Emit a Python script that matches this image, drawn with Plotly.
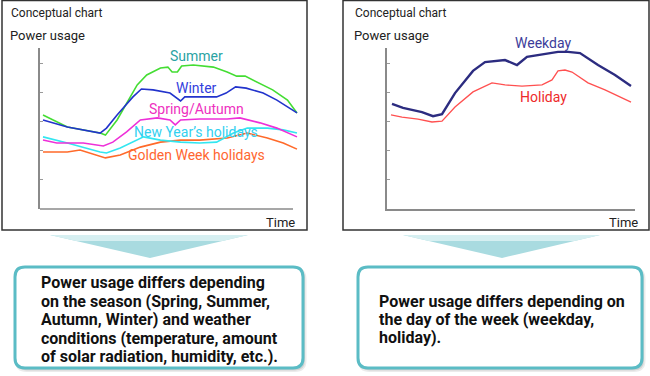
import plotly.graph_objects as go

W, H = 650, 376

# ---------------- data (conceptual) ----------------
# left chart: hours of day vs. relative power usage
summer_x = [0, 2.3, 5.4, 5.9, 7.0, 7.9, 8.9, 9.8, 11.1, 11.8, 12.2, 12.7, 13.1, 14.2, 16.1, 17.4, 18.3, 19.1, 20.2, 21.7, 23.1, 24]
summer_y = [3.22, 2.81, 2.60, 2.53, 3.05, 3.63, 4.25, 4.59, 4.83, 4.86, 4.69, 4.69, 4.90, 4.93, 4.86, 4.69, 4.55, 4.55, 4.35, 4.08, 3.73, 3.29]

winter_x = [0, 2.3, 5.4, 6.0, 7.0, 8.5, 9.3, 10.4, 12.0, 12.6, 13.0, 13.4, 14.5, 16.4, 17.3, 18.2, 19.2, 20.8, 22.1, 24]
winter_y = [3.05, 2.81, 2.60, 2.77, 3.22, 3.84, 4.11, 4.08, 3.97, 3.80, 3.70, 3.84, 3.84, 3.84, 3.97, 4.18, 4.14, 3.97, 3.73, 3.29]

spring_x = [0, 1.3, 3.8, 5.7, 6.6, 7.9, 9.2, 10.8, 12.0, 12.5, 13.0, 14.8, 17.4, 18.6, 20.5, 22.1, 24]
spring_y = [2.36, 2.26, 2.26, 2.16, 2.29, 2.64, 3.05, 3.12, 3.05, 2.88, 3.05, 3.08, 3.08, 3.12, 2.95, 2.77, 2.47]

newyear_x = [0, 2.3, 5.4, 6.0, 7.3, 8.5, 9.5, 11.1, 13.0, 14.8, 16.4, 18.0, 19.3, 21.2, 22.7, 24]
newyear_y = [2.47, 2.26, 1.95, 1.92, 2.09, 2.29, 2.47, 2.36, 2.29, 2.26, 2.29, 2.60, 2.77, 2.77, 2.71, 2.60]

golden_x = [0, 2.3, 3.5, 5.1, 5.9, 7.3, 9.2, 11.1, 13.0, 14.8, 17.4, 19.3, 21.2, 22.7, 24]
golden_y = [1.95, 1.95, 2.02, 1.85, 1.75, 1.85, 2.12, 2.29, 2.36, 2.36, 2.43, 2.60, 2.43, 2.26, 2.05]

# right chart
weekday_x = [0.1, 1.2, 3.1, 4.2, 5.1, 6.4, 8.2, 9.4, 11.4, 12.6, 13.6, 14.7, 15.7, 16.7, 17.7, 18.9, 20.7, 22.4, 24.0]
weekday_y = [3.60, 3.46, 3.32, 3.18, 3.25, 3.97, 4.73, 5.03, 5.10, 4.93, 5.21, 5.27, 5.31, 5.38, 5.38, 5.34, 4.93, 4.59, 4.21]

holiday_x = [0, 1.1, 2.7, 4.1, 5.1, 6.4, 8.2, 10.1, 11.4, 13.1, 15.1, 16.1, 16.7, 17.4, 18.1, 19.7, 21.4, 24.0]
holiday_y = [3.22, 3.15, 3.08, 2.98, 3.01, 3.49, 4.01, 4.32, 4.25, 4.21, 4.25, 4.42, 4.73, 4.76, 4.69, 4.32, 4.08, 3.66]

y_ticks = [1, 2, 3, 4, 5]

left_lines = ["Power usage differs depending", "on the season (Spring, Summer,",
              "Autumn, Winter) and weather", "conditions (temperature, amount",
              "of solar radiation, humidity, etc.)."]
right_lines = ["Power usage differs depending on", "the day of the week (weekday,", "holiday)."]

# ---------------- helpers ----------------
def X(p):
    return p / W

def Y(p):
    return 1 - p / H

def poly(pts):
    s = "M " + " L ".join(f"{X(x):.5f},{Y(y):.5f}" for x, y in pts) + " Z"
    return s

def rr(x0, y0, x1, y1, r):
    def P(x, y):
        return f"{X(x):.5f},{Y(y):.5f}"
    return (f"M {P(x0+r,y0)} L {P(x1-r,y0)} Q {P(x1,y0)} {P(x1,y0+r)} "
            f"L {P(x1,y1-r)} Q {P(x1,y1)} {P(x1-r,y1)} L {P(x0+r,y1)} "
            f"Q {P(x0,y1)} {P(x0,y1-r)} L {P(x0,y0+r)} Q {P(x0,y0)} {P(x0+r,y0)} Z")

FONT = "Roboto"
fig = go.Figure()

def line(x, y, color, width, xa="x", ya="y"):
    fig.add_trace(go.Scatter(x=x, y=y, mode="lines", xaxis=xa, yaxis=ya,
                             line=dict(color=color, width=width), hoverinfo="skip",
                             showlegend=False))

line(golden_x, golden_y, "#ff6a2a", 1.6)
line(newyear_x, newyear_y, "#33e6f0", 1.6)
line(spring_x, spring_y, "#ee30d8", 1.6)
line(summer_x, summer_y, "#44dd33", 1.6)
line(winter_x, winter_y, "#2233cc", 1.6)

line(holiday_x, holiday_y, "#ff5050", 1.3, "x2", "y2")
line(weekday_x, weekday_y, "#2c2c80", 2.4, "x2", "y2")

ydom = [Y(209), Y(48)]
yax = dict(range=[0, 161 / 29.2], showgrid=False, zeroline=False, showline=True,
           linecolor="#8a8a8a", linewidth=1.5, ticks="inside", tickvals=y_ticks,
           ticklen=3, tickcolor="#9a9a9a", tickwidth=1, showticklabels=False, fixedrange=True)

fig.update_layout(
    width=W, height=H, margin=dict(l=0, r=0, t=0, b=0),
    paper_bgcolor="white", plot_bgcolor="rgba(0,0,0,0)", showlegend=False,
    xaxis=dict(domain=[X(40), X(298)], range=[-3 / 10.583, 255 / 10.583], showgrid=False,
               zeroline=False, showline=False, showticklabels=False, ticks="", anchor="y"),
    yaxis=dict(domain=ydom, anchor="x", **yax),
    xaxis2=dict(domain=[X(387), X(635)], range=[-0.4, 24.4], showgrid=False, zeroline=False,
                showline=True, linecolor="#8a8a8a", linewidth=1.5, showticklabels=False,
                ticks="", anchor="y2"),
    yaxis2=dict(domain=ydom, anchor="x2", **yax),
)

shapes = []
# panel frames
shapes.append(dict(type="rect", xref="paper", yref="paper", x0=X(2), x1=X(307), y0=Y(230), y1=Y(0.6),
                   line=dict(color="#333333", width=1.5), fillcolor="rgba(0,0,0,0)", layer="below"))
shapes.append(dict(type="rect", xref="paper", yref="paper", x0=X(343), x1=X(649), y0=Y(230), y1=Y(0.6),
                   line=dict(color="#333333", width=1.5), fillcolor="rgba(0,0,0,0)", layer="below"))
# left x-axis line (ends before the curves)
shapes.append(dict(type="line", xref="paper", yref="paper", x0=X(40), x1=X(293), y0=Y(209), y1=Y(209),
                   line=dict(color="#8a8a8a", width=1.5)))

# arrows
for (l, r, apex) in [(50, 248, 150), (403, 600, 502)]:
    shapes.append(dict(type="path", xref="paper", yref="paper",
                       path=poly([(l, 235), (r, 235), (apex, 258)]),
                       fillcolor="#a9dbe0", line=dict(width=0)))
    t = 6 / 23
    shapes.append(dict(type="path", xref="paper", yref="paper",
                       path=poly([(l, 235), (r, 235), (r - (r - apex) * t, 241), (l + (apex - l) * t, 241)]),
                       fillcolor="#d6eff1", line=dict(width=0)))

# text boxes with shadow
for (x0, x1) in [(15, 303), (358, 642)]:
    shapes.append(dict(type="path", xref="paper", yref="paper", path=rr(x0 + 1.5, 269, x1 + 2, 370.5, 10),
                       fillcolor="rgba(0,0,0,0.10)", line=dict(color="rgba(0,0,0,0.08)", width=3)))
    shapes.append(dict(type="path", xref="paper", yref="paper", path=rr(x0, 267, x1, 368, 10),
                       fillcolor="white", line=dict(color="#5bbcc5", width=3)))

fig.update_layout(shapes=shapes)

ann = []
def text(x, y, s, size, color="#222222", xanchor="left", bold=False, align="left"):
    ann.append(dict(x=X(x), y=Y(y), xref="paper", yref="paper", text=(f"<b>{s}</b>" if bold else s),
                    showarrow=False, xanchor=xanchor, yanchor="middle", align=align,
                    font=dict(family=FONT, size=size, color=color)))

for ox in (0, 344):
    text(9 + ox, 13, "Conceptual chart", 12)
    text(8 + ox, 35, "Power usage", 13)
text(297, 222, "Time", 13, xanchor="right")
text(640, 222, "Time", 13, xanchor="right")

text(196, 56, "Summer", 14, "#2aa3a3", "center")
text(196, 88, "Winter", 14, "#3340dd", "center")
text(196, 109, "Spring/Autumn", 14, "#ee30c0", "center")
text(196, 132, "New Year\u2019s holidays", 14, "#33d0f0", "center")
text(196, 155, "Golden Week holidays", 14, "#ff6630", "center")

text(543, 43, "Weekday", 14, "#3c3c9a", "center")
text(543, 97, "Holiday", 14, "#ee2a2a", "center")

for i, s in enumerate(left_lines):
    text(39, 282.5 + i * 18.5, s, 16, "#111111", bold=True)
for i, s in enumerate(right_lines):
    text(377, 301 + i * 18.3, s, 16, "#111111", bold=True)

fig.update_layout(annotations=ann)
fig.write_html("out.html", config={"displayModeBar": False},
               post_script="document.body.style.margin='0';document.body.style.overflow='hidden';")
